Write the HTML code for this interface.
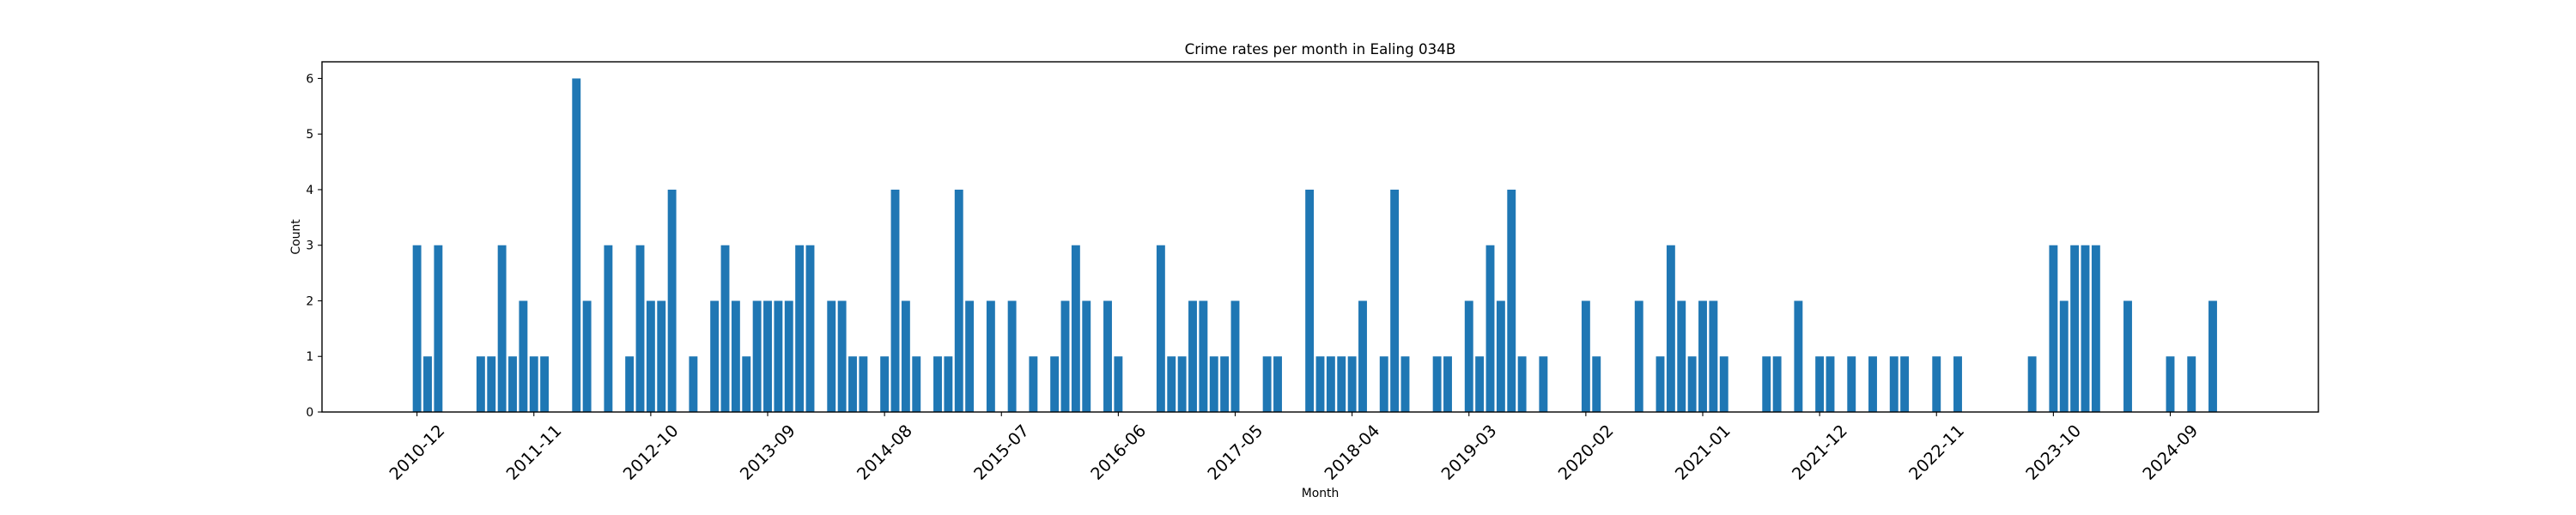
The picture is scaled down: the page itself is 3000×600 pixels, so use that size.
<!DOCTYPE html>
<html><head><meta charset="utf-8"><title>Crime rates per month in Ealing 034B</title>
<style>html,body{margin:0;padding:0;background:#fff}svg{display:block}text{font-family:"DejaVu Sans","Liberation Sans",sans-serif;fill:#000}</style>
</head><body>
<svg id="chart" width="3000" height="600" viewBox="0 0 3000 600" xmlns="http://www.w3.org/2000/svg">
<rect x="0" y="0" width="3000" height="600" fill="#fff"/>
<text x="1537.5" y="63" font-size="16.7" text-anchor="middle">Crime rates per month in Ealing 034B</text>
<text x="1537.5" y="579" font-size="13.9" text-anchor="middle">Month</text>
<text x="0" y="0" font-size="13.9" text-anchor="middle" transform="translate(349,276) rotate(-90)">Count</text>
<g id="bars"></g>
<g id="xticks"></g>
<g id="yticks"></g>
<rect x="375" y="72" width="2325" height="408" fill="none" stroke="#000" stroke-width="1.4"/>
</svg>
<script>
const startYear = 2010;
const startMonth = 12;
const monthCount = 171;
const barIndices = [0,1,2,6,7,8,9,10,11,12,15,16,18,20,21,22,23,24,26,28,29,30,31,32,33,34,35,36,37,39,40,41,42,44,45,46,47,49,50,51,52,54,56,58,60,61,62,63,65,66,70,71,72,73,74,75,76,77,80,81,84,85,86,87,88,89,91,92,93,96,97,99,100,101,102,103,104,106,110,111,115,117,118,119,120,121,122,123,127,128,130,132,133,135,137,139,140,143,145,152,154,155,156,157,158,161,165,167,169];
const barValues = [3,1,3,1,1,3,1,2,1,1,6,2,3,1,3,2,2,4,1,2,3,2,1,2,2,2,2,3,3,2,2,1,1,1,4,2,1,1,1,4,2,2,2,1,1,2,3,2,2,1,3,1,1,2,2,1,1,2,1,1,4,1,1,1,1,2,1,4,1,1,1,2,1,3,2,4,1,1,2,1,2,1,3,2,1,2,2,1,1,1,2,1,1,1,1,1,1,1,1,1,3,2,3,3,3,2,1,1,2];
const yTicks = [0,1,2,3,4,5,6];
const tickEvery = 11;

const NS = 'http://www.w3.org/2000/svg';
const plotL = 375, plotR = 2700, plotT = 72, plotB = 480;
const xMin = -0.4 - 0.05 * (monthCount - 0.2), xMax = monthCount - 0.6 + 0.05 * (monthCount - 0.2);
const xScale = i => plotL + (i - xMin) / (xMax - xMin) * (plotR - plotL);
const yMax = 6.3;
const yScale = v => plotB - v / yMax * (plotB - plotT);
const bw = 0.8 * (plotR - plotL) / (xMax - xMin);
function monthLabel(i){
  const t = (startYear * 12 + startMonth - 1) + i;
  const y = Math.floor(t / 12), m = t % 12 + 1;
  return y + '-' + (m < 10 ? '0' : '') + m;
}
const bars = document.getElementById('bars');
for (let k = 0; k < barIndices.length; k++) {
  const i = barIndices[k], v = barValues[k];
  const r = document.createElementNS(NS, 'rect');
  r.setAttribute('x', xScale(i) - bw / 2);
  r.setAttribute('y', yScale(v));
  r.setAttribute('width', bw);
  r.setAttribute('height', yScale(0) - yScale(v));
  r.setAttribute('fill', '#1f77b4');
  
  
  bars.appendChild(r);
}
const xt = document.getElementById('xticks');
for (let i = 0; i < monthCount; i += tickEvery) {
  const x = xScale(i);
  const l = document.createElementNS(NS, 'line');
  l.setAttribute('x1', x); l.setAttribute('x2', x);
  l.setAttribute('y1', plotB); l.setAttribute('y2', plotB + 4.9);
  l.setAttribute('stroke', '#000'); l.setAttribute('stroke-width', '1.1');
  
  
  xt.appendChild(l);
  const t = document.createElementNS(NS, 'text');
  t.setAttribute('x', 0); t.setAttribute('y', 0);
  t.setAttribute('font-size', '19.4');
  t.setAttribute('text-anchor', 'middle');
  t.setAttribute('dominant-baseline', 'central');
  t.setAttribute('transform', 'translate(' + x + ',527) rotate(-45)');
  t.textContent = monthLabel(i);
  
  
  xt.appendChild(t);
}
const yt = document.getElementById('yticks');
for (const v of yTicks) {
  const y = yScale(v);
  const l = document.createElementNS(NS, 'line');
  l.setAttribute('x1', plotL - 4.9); l.setAttribute('x2', plotL);
  l.setAttribute('y1', y); l.setAttribute('y2', y);
  l.setAttribute('stroke', '#000'); l.setAttribute('stroke-width', '1.1');
  
  
  yt.appendChild(l);
  const t = document.createElementNS(NS, 'text');
  t.setAttribute('x', plotL - 9.8); t.setAttribute('y', y + 5);
  t.setAttribute('font-size', '13.9');
  t.setAttribute('text-anchor', 'end');
  t.textContent = v;
  
  
  yt.appendChild(t);
}
</script>
</body></html>
